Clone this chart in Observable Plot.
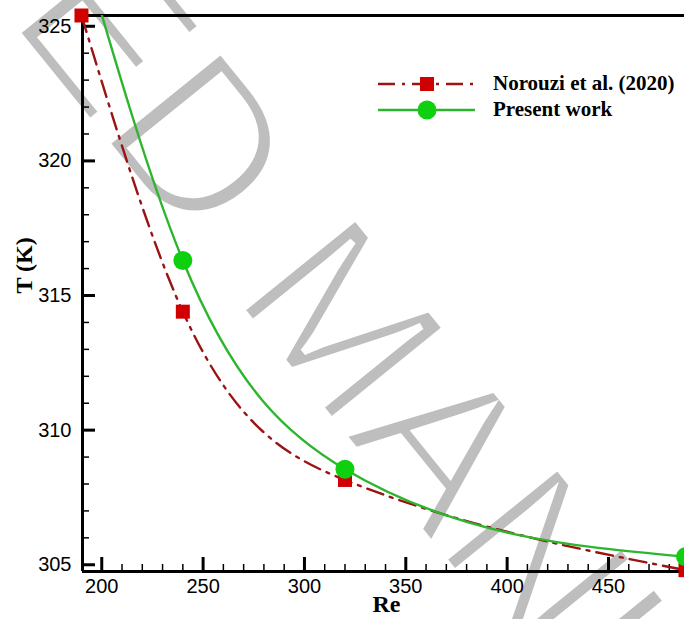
<!DOCTYPE html>
<html>
<head>
<meta charset="utf-8">
<script src="https://cdn.jsdelivr.net/npm/d3@7"></script>
<script src="https://cdn.jsdelivr.net/npm/@observablehq/plot@0.6"></script>
<style>
  html, body { margin: 0; padding: 0; background: #fff; overflow: hidden; }
  #chart { position: relative; width: 684px; height: 619px; }
</style>
</head>
<body>
<div id="chart"></div>
<script>
// ---- data ----
const reNorouzi = [190, 240, 320, 488];
const tNorouzi  = [325.4, 314.4, 308.15, 304.8];
const rePresent = [190, 240, 320, 488];
const tPresent  = [328.0, 316.3, 308.55, 305.3];

const seriesNames = ["Norouzi et al. (2020)", "Present work"];

// axis extents and ticks
const xDomain = [190.5, 487.5];
const yDomain = [304.75, 325.4];
const xMajor = [200, 250, 300, 350, 400, 450];
const xMinor = [210, 220, 230, 240, 260, 270, 280, 290, 310, 320, 330, 340, 360, 370, 380, 390, 410, 420, 430, 440, 460, 470, 480];
const yMajor = [305, 310, 315, 320, 325];
const yMinor = [306, 307, 308, 309, 311, 312, 313, 314, 316, 317, 318, 319, 321, 322, 323, 324];

const xTitle = "Re";
const yTitle = "T (K)";
const watermark = "ACCEPTED MANUSCRIPT";

const norouzi = reNorouzi.map((re, i) => ({re, t: tNorouzi[i]}));
const present = rePresent.map((re, i) => ({re, t: tPresent[i]}));

// natural cubic spline in x (like the plotting package's spline lines)
function splineX(context) {
  let xs, ys;
  return {
    areaStart() {}, areaEnd() {},
    lineStart() { xs = []; ys = []; },
    point(x, y) { xs.push(+x); ys.push(+y); },
    lineEnd() {
      const n = xs.length;
      if (!n) return;
      context.moveTo(xs[0], ys[0]);
      if (n === 1) return;
      if (n === 2) { context.lineTo(xs[1], ys[1]); return; }
      const h = [], s = [];
      for (let i = 0; i < n - 1; i++) { h[i] = xs[i + 1] - xs[i]; s[i] = (ys[i + 1] - ys[i]) / h[i]; }
      const M = new Array(n).fill(0), cp = [], dp = [];
      for (let i = 1; i <= n - 2; i++) {
        const a = h[i - 1], b = 2 * (h[i - 1] + h[i]), c = h[i], d = 6 * (s[i] - s[i - 1]);
        const m = b - (i > 1 ? a * cp[i - 1] : 0);
        cp[i] = c / m;
        dp[i] = (d - (i > 1 ? a * dp[i - 1] : 0)) / m;
      }
      for (let i = n - 2; i >= 1; i--) M[i] = dp[i] - (i < n - 2 ? cp[i] * M[i + 1] : 0);
      for (let i = 0; i < n - 1; i++) {
        const d0 = s[i] - h[i] * (2 * M[i] + M[i + 1]) / 6;
        const d1 = s[i] + h[i] * (M[i] + 2 * M[i + 1]) / 6;
        context.bezierCurveTo(
          xs[i] + h[i] / 3, ys[i] + d0 * h[i] / 3,
          xs[i + 1] - h[i] / 3, ys[i + 1] - d1 * h[i] / 3,
          xs[i + 1], ys[i + 1]);
      }
    }
  };
}

const RED_LINE = "#9a1414", RED_FILL = "#d00000";
const GREEN_LINE = "#2db52d", GREEN_FILL = "#0fd00f";
const DASH = "17,7,3,7";
const tickFont = "Liberation Sans, Arial, sans-serif";
const titleFont = "Liberation Serif, Times New Roman, serif";

const W = 684, H = 619, ML = 82, MR = 0, MT = 15, MB = 48;
const FW = W - ML - MR, FH = H - MT - MB;

const plot = Plot.plot({
  width: W,
  height: H,
  marginLeft: ML,
  marginRight: MR,
  marginTop: MT,
  marginBottom: MB,
  style: {background: "white", overflow: "hidden"},
  x: {domain: xDomain},
  y: {domain: yDomain},
  marks: [
    // inward ticks
    Plot.tickY(yMinor, {y: d => d, insetRight: FW - 7, stroke: "black", strokeWidth: 1.5}),
    Plot.tickY(yMajor, {y: d => d, insetRight: FW - 13, stroke: "black", strokeWidth: 3}),
    Plot.tickX(xMinor, {x: d => d, insetTop: FH - 7, stroke: "black", strokeWidth: 1.5}),
    Plot.tickX(xMajor, {x: d => d, insetTop: FH - 14, stroke: "black", strokeWidth: 3}),
    // frame lines (left, bottom, top)
    Plot.ruleX([xDomain[0]], {stroke: "black", strokeWidth: 3}),
    Plot.ruleY([yDomain[0], yDomain[1]], {stroke: "black", strokeWidth: 3}),
    // tick labels
    Plot.axisY({ticks: yMajor, anchor: "left", tickSize: 0, tickPadding: 11, fontSize: 20, fontFamily: tickFont, label: null}),
    Plot.axisX({ticks: xMajor, anchor: "bottom", tickSize: 0, tickPadding: 7, fontSize: 20, fontFamily: tickFont, label: null}),
    // axis titles
    Plot.text([yTitle], {text: d => d, frameAnchor: "left", dx: -58, rotate: -90, fontSize: 24, fontWeight: "bold", fontFamily: titleFont}),
    Plot.text([xTitle], {text: d => d, frameAnchor: "bottom", dx: 3, dy: 40, fontSize: 24, fontWeight: "bold", fontFamily: titleFont}),
    // Norouzi et al.
    Plot.line(norouzi, {x: "re", y: "t", curve: splineX, stroke: RED_LINE, strokeWidth: 2.4, strokeDasharray: DASH}),
    Plot.dot(norouzi, {x: "re", y: "t", symbol: "square", r: 7.9, fill: RED_FILL}),
    // Present work
    Plot.line(present, {x: "re", y: "t", curve: splineX, stroke: GREEN_LINE, strokeWidth: 2.4, clip: true}),
    Plot.dot(present, {x: "re", y: "t", r: 9.5, fill: GREEN_FILL, clip: true})
  ]
});

document.getElementById("chart").appendChild(plot);

// ---- watermark (behind everything) ----
const NS = "http://www.w3.org/2000/svg";
const svg = plot.tagName.toLowerCase() === "svg" ? plot : plot.querySelector("svg");
const wm = document.createElementNS(NS, "text");
wm.setAttribute("transform", "translate(112,150) rotate(51)");
wm.setAttribute("x", -1037);
wm.setAttribute("y", 0);
wm.setAttribute("text-anchor", "start");
wm.setAttribute("font-family", "Liberation Sans, Arial, sans-serif");
wm.setAttribute("font-size", 214);
wm.setAttribute("fill", "#bebebe");
wm.setAttribute("stroke", "#ffffff");
wm.setAttribute("stroke-width", 7);
wm.setAttribute("stroke-linejoin", "miter");
wm.style.fontKerning = "none";
wm.textContent = watermark;
svg.insertBefore(wm, svg.firstChild);

// ---- legend ----
const lg = d3.select(svg).append("g").attr("class", "legend").attr("text-anchor", "start");
const rows = [
  {name: seriesNames[0], y: 84, line: RED_LINE, dash: DASH, fill: RED_FILL, shape: "square"},
  {name: seriesNames[1], y: 110, line: GREEN_LINE, dash: null, fill: GREEN_FILL, shape: "circle"}
];
rows.forEach(r => {
  lg.append("line").attr("x1", 378).attr("x2", 475).attr("y1", r.y).attr("y2", r.y)
    .attr("stroke", r.line).attr("stroke-width", 2.4).attr("stroke-dasharray", r.dash);
  if (r.shape === "square") {
    lg.append("rect").attr("x", 420).attr("y", r.y - 7).attr("width", 14).attr("height", 14).attr("fill", r.fill);
  } else {
    lg.append("circle").attr("cx", 427).attr("cy", r.y).attr("r", 9.5).attr("fill", r.fill);
  }
  lg.append("text").attr("x", 493).attr("y", r.y + 6).attr("text-anchor", "start")
    .attr("font-family", titleFont).attr("font-weight", "bold").attr("font-size", 21)
    .attr("fill", "black").text(r.name);
});
</script>
</body>
</html>
